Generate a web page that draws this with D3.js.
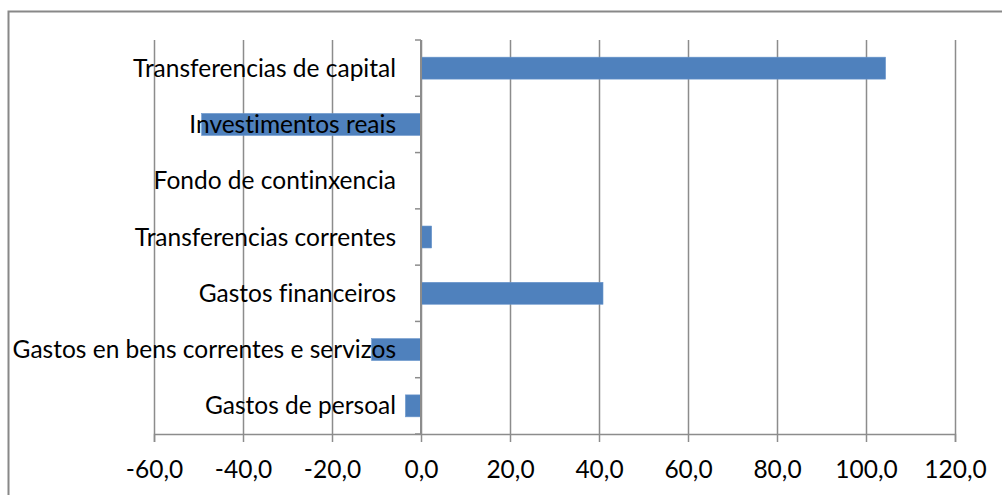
<!DOCTYPE html>
<html>
<head>
<meta charset="utf-8">
<script src="https://cdn.jsdelivr.net/npm/d3@7"></script>
<style>
  body { margin: 0; background: #fff; }
  svg text { font-family: Lato, "Open Sans", sans-serif; fill: #000; font-variant-ligatures: none; }
</style>
</head>
<body>
<div id="chart"></div>
<script>
// categories, top to bottom
var categories = [
  "Transferencias de capital",
  "Investimentos reais",
  "Fondo de continxencia",
  "Transferencias correntes",
  "Gastos financeiros",
  "Gastos en bens correntes e servizos",
  "Gastos de persoal"
];
var values = [104.4, -49.3, 0, 2.4, 40.9, -11.1, -3.5];
var xTicks = [-60, -40, -20, 0, 20, 40, 60, 80, 100, 120];

var W = 1002, H = 495;
var margin = {top: 40, right: 47, bottom: 61, left: 154};
var width = W - margin.left - margin.right,
    height = H - margin.top - margin.bottom;

var svg = d3.select("#chart").append("svg")
    .attr("width", W)
    .attr("height", H);

// outer frame
svg.append("rect")
    .attr("x", 8.5).attr("y", 11.5)
    .attr("width", W + 20).attr("height", H + 20)
    .attr("fill", "none")
    .attr("stroke", "#888")
    .attr("stroke-width", 2);

var g = svg.append("g")
    .attr("transform", "translate(" + margin.left + "," + margin.top + ")");

var x = d3.scaleLinear().domain([-60, 120]).range([0, width]);
var y = d3.scaleBand().domain(categories).range([0, height]).padding(0);

var fmt = d => d3.format(".1f")(d).replace(".", ",").replace("−", "-");

// vertical gridlines
g.selectAll("line.grid")
  .data(xTicks)
  .enter().append("line")
    .attr("class", "grid")
    .attr("x1", d => Math.round(x(d)) + 0.5)
    .attr("x2", d => Math.round(x(d)) + 0.5)
    .attr("y1", 0)
    .attr("y2", height)
    .attr("stroke", "#8c8c8c")
    .attr("stroke-width", 1.5);

// bars
var barH = y.bandwidth() * 0.39;
g.selectAll("rect.bar")
  .data(values)
  .enter().append("rect")
    .attr("class", "bar")
    .attr("x", d => x(Math.min(0, d)))
    .attr("width", d => Math.abs(x(d) - x(0)))
    .attr("y", (d, i) => y(categories[i]) + (y.bandwidth() - barH) / 2)
    .attr("height", barH)
    .attr("fill", "#4F81BD")
    .attr("stroke", "#6a96cc")
    .attr("stroke-width", 0.6);

// x axis
var xAxis = g.append("g")
    .attr("transform", "translate(0," + height + ")")
    .call(d3.axisBottom(x).tickValues(xTicks).tickFormat(fmt).tickSize(8).tickPadding(19));
xAxis.select(".domain").attr("stroke", "#8c8c8c").attr("stroke-width", 1.5);
xAxis.selectAll(".tick line").attr("stroke", "#8c8c8c").attr("stroke-width", 1.5);
xAxis.selectAll(".tick text").attr("font-size", "24.5px");

// category axis at zero
var zero = x(0);
var yAxis = g.append("g")
    .attr("transform", "translate(" + zero + ",0)");
yAxis.append("line")
    .attr("y1", 0).attr("y2", height)
    .attr("stroke", "#8c8c8c").attr("stroke-width", 2);
yAxis.selectAll("line.ytick")
  .data(categories.concat([null]))
  .enter().append("line")
    .attr("class", "ytick")
    .attr("x1", -6).attr("x2", 0)
    .attr("y1", (d, i) => i * y.step())
    .attr("y2", (d, i) => i * y.step())
    .attr("stroke", "#8c8c8c").attr("stroke-width", 1.5);
yAxis.selectAll("text")
  .data(categories)
  .enter().append("text")
    .attr("x", -25)
    .attr("y", d => y(d) + y.bandwidth() / 2)
    .attr("dy", "0.35em")
    .attr("text-anchor", "end")
    .attr("font-size", "24.5px")
    .text(d => d);
</script>
</body>
</html>
